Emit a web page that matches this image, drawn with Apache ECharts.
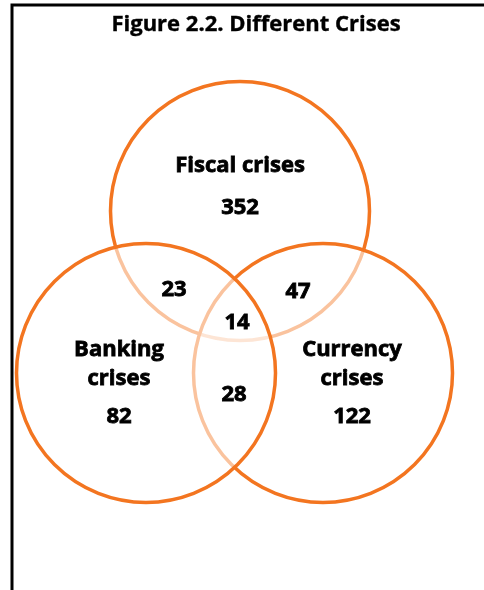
<!DOCTYPE html>
<html>
<head>
<meta charset="utf-8">
<style>
html,body{margin:0;padding:0;background:#fff;}
#chart{width:484px;height:590px;}
</style>
<script src="https://cdn.jsdelivr.net/npm/echarts@6/dist/echarts.min.js"></script>
</head>
<body>
<div id="chart"></div>
<script>
// ---- data ----
const setNames = ['Fiscal crises', 'Currency crises', 'Banking crises'];
const setOnly = [352, 122, 82];
const pairLabels = ['Fiscal & Banking', 'Fiscal & Currency', 'Banking & Currency'];
const pairValues = [23, 47, 28];
const tripleValue = 14;
const titleText = 'Figure 2.2. Different Crises';

// ---- layout (pixel-like units on hidden axes) ----
const circleCenters = [[240, 211], [323, 373], [146, 373]];
const circleRadius = 129.5;
const nameLines = [['Fiscal crises'], ['Currency', 'crises'], ['Banking', 'crises']];
const namePos = [[240, 166], [352, 350], [119, 350]];
const onlyPos = [[240, 208], [352, 417], [119, 417]];
const pairPos = [[174, 290], [298, 292], [234, 395]];
const triplePos = [237, 323];

const FONT = '"Open Sans", sans-serif';
const ORANGE = '#F37520';

const chart = echarts.init(document.getElementById('chart'));

const circleData = circleCenters.map((c, i) => [c[0], c[1], circleRadius, i]);
const labelData = [];
setNames.forEach((n, i) => {
  nameLines[i].forEach((ln, j) => labelData.push([namePos[i][0], namePos[i][1] + j * 29, ln]));
  labelData.push([onlyPos[i][0], onlyPos[i][1], String(setOnly[i])]);
});
pairValues.forEach((v, i) => labelData.push([pairPos[i][0], pairPos[i][1], String(v)]));
labelData.push([triplePos[0], triplePos[1], String(tripleValue)]);

chart.setOption({
  animation: false,
  title: {
    text: titleText,
    left: 251, top: 9, textAlign: 'center',
    textStyle: {fontFamily: FONT, fontWeight: 'bold', fontSize: 22, color: '#000', textBorderColor: '#000', textBorderWidth: 0.4}
  },
  graphic: [
    {type: 'polyline', shape: {points: [[12, 590], [12, 5], [484, 5]]}, style: {stroke: '#000', lineWidth: 3, fill: null}, silent: true}
  ],
  grid: {left: 0, top: 0, width: 484, height: 590},
  xAxis: {type: 'value', min: 0, max: 484, show: false},
  yAxis: {type: 'value', min: 0, max: 590, inverse: true, show: false},
  series: [
    {
      type: 'custom',
      data: circleData,
      renderItem: function (params, api) {
        const c = api.coord([api.value(0), api.value(1)]);
        const e = api.coord([api.value(0) + api.value(2), api.value(1)]);
        const r = Math.abs(e[0] - c[0]);
        return {
          type: 'circle',
          shape: {cx: c[0], cy: c[1], r: r},
          style: {fill: 'rgba(255,255,255,0.57)', stroke: ORANGE, lineWidth: 3.5}
        };
      },
      z: 2
    },
    {
      type: 'custom',
      data: labelData,
      renderItem: function (params, api) {
        const p = api.coord([api.value(0), api.value(1)]);
        return {
          type: 'text',
          x: p[0], y: p[1],
          style: {
            text: labelData[params.dataIndex][2],
            fill: '#000',
            stroke: '#000',
            lineWidth: 0.8,
            font: 'bold 22px ' + FONT,
            align: 'center', verticalAlign: 'middle'
          }
        };
      },
      z: 5
    }
  ]
});
</script>
</body>
</html>
